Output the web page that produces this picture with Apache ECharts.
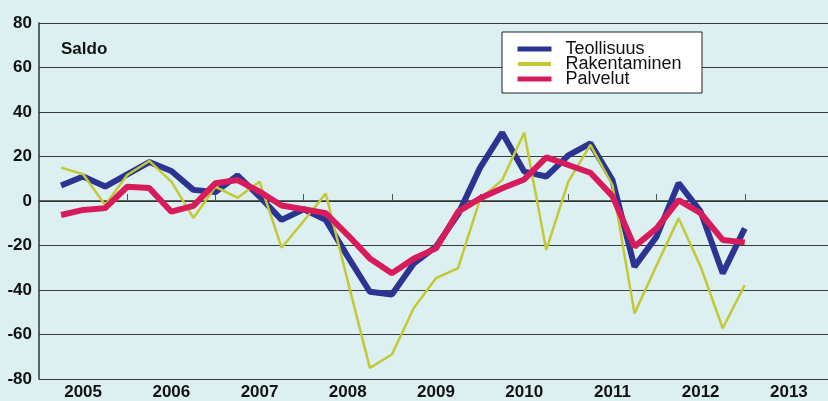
<!DOCTYPE html>
<html>
<head>
<meta charset="utf-8">
<script src="https://cdn.jsdelivr.net/npm/echarts@6/dist/echarts.min.js"></script>
<style>
html,body{margin:0;padding:0;background:#dcf0f1;}
#chart{width:828px;height:401px;}
</style>
</head>
<body>
<div id="chart"></div>
<script>
var years = ['2005','2006','2007','2008','2009','2010','2011','2012','2013'];
var seriesNames = ['Teollisuus','Rakentaminen','Palvelut'];
var yTicks = [-80,-60,-40,-20,0,20,40,60,80];
var teollisuus = [7, 11, 6.5, 12, 17.5, 13.5, 5, 4, 11.5, 2, -8.5, -3.7, -8.5, -25, -40.8, -42, -28, -20.5, -6, 15, 30.7, 13.2, 11, 20.5, 25.9, 9.4, -29.5, -16, 8, -4.8, -32.5, -12.3];
var rakentaminen = [15, 12, -1.8, 11.7, 18, 8.7, -7.6, 6.4, 1.5, 8.7, -21, -9, 3.4, -36, -75, -69, -48, -34.7, -30.2, 1, 9.4, 30.7, -22, 8.7, 25.2, 7.2, -50.5, -29, -7.8, -29.5, -57.2, -37.8];
var palvelut = [-6.3, -4, -3.2, 6.4, 5.8, -4.8, -2.2, 8, 9.4, 4.2, -2, -3.7, -5.5, -15.3, -25.8, -32.5, -25.8, -21.3, -4.8, 1.2, 5.7, 9.7, 19.6, 16.2, 12.7, 2.2, -20.5, -12.3, 0.4, -5.5, -17.5, -18.6];

// quarter-end categories: start of 2005, then every quarter end through 2013
var categories = ['2004Q4'];
years.forEach(function(y){ for (var q=1;q<=4;q++) categories.push(y+'Q'+q); });
var dataQuarters = categories.slice(1, 1 + teollisuus.length);
function pairs(vals){ return vals.map(function(v,i){ return [dataQuarters[i], v]; }); }

var FONT = '"Liberation Sans", Arial, sans-serif';
var chart = echarts.init(document.getElementById('chart'), null, {renderer:'canvas'});
chart.setOption({
  backgroundColor: '#dcf0f1',
  animation: false,
  title: {
    text: 'Saldo', left: 56, top: 36,
    textStyle: {fontFamily: FONT, fontSize: 17, fontWeight: 'bold', color: '#111'}
  },
  graphic: [{
    type: 'rect', z: 3,
    shape: {x: 502, y: 32, width: 200, height: 61},
    style: {fill: '#ffffff', stroke: '#222', lineWidth: 1}
  }],
  legend: {
    z: 5,
    orient: 'vertical', left: 512, top: 35,
    icon: 'rect',
    itemWidth: 34, itemHeight: 5, itemGap: -3,
    data: [
      {name: seriesNames[0]},
      {name: seriesNames[1], itemStyle: {borderColor: '#ffffff', borderWidth: 1}},
      {name: seriesNames[2]}
    ],
    textStyle: {fontFamily: FONT, fontSize: 18, color: '#111', padding: [0,0,0,9]}
  },
  grid: {left: 39, width: 794, top: 23, bottom: 22, containLabel: false, outerBoundsMode: 'none'},
  xAxis: {
    type: 'category', data: categories, boundaryGap: false,
    axisLine: {lineStyle: {color: '#333', width: 1.5}},
    axisTick: {inside: true, length: 7, lineStyle: {color: '#555'},
      interval: function(i){ return i % 4 === 0; }},
    axisLabel: {
      interval: function(i){ return i % 4 === 2; },
      formatter: function(v){ return v.slice(0,4); },
      fontFamily: FONT, fontSize: 17, fontWeight: 'bold', color: '#111', margin: 5
    },
    splitLine: {show: false}
  },
  yAxis: {
    type: 'value', min: yTicks[0], max: yTicks[yTicks.length-1], interval: 20,
    axisLine: {show: true, lineStyle: {color: '#333', width: 1.5}},
    axisTick: {show: false},
    axisLabel: {fontFamily: FONT, fontSize: 17, fontWeight: 'bold', color: '#111', margin: 7},
    splitLine: {lineStyle: {color: '#3a3a3a', width: 1}}
  },
  series: [
    {name: seriesNames[0], type: 'line', data: pairs(teollisuus), symbol: 'none',
     color: '#2b3491', lineStyle: {width: 6, color: '#2b3491'}},
    {name: seriesNames[1], type: 'line', data: pairs(rakentaminen), symbol: 'none',
     color: '#c3c935', lineStyle: {width: 2.5, color: '#c3c935'}},
    {name: seriesNames[2], type: 'line', data: pairs(palvelut), symbol: 'none',
     color: '#d81c5b', lineStyle: {width: 6, color: '#d81c5b'}}
  ]
});
</script>
</body>
</html>
